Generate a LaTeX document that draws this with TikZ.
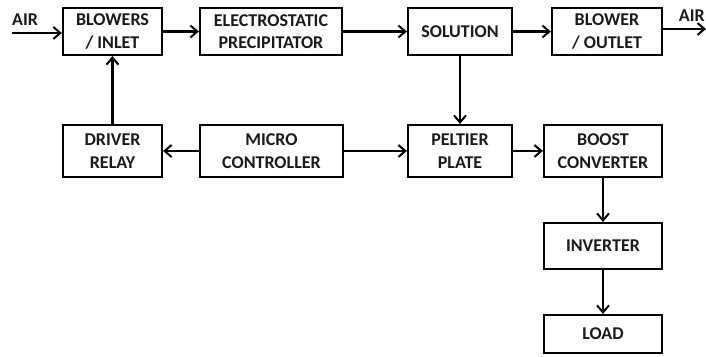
\documentclass[tikz,border=0pt]{standalone}
\usepackage{fontspec}
\setmainfont{Carlito}
\usepackage{tikz}
\usetikzlibrary{arrows.meta,positioning}
\definecolor{bdink}{HTML}{000000}
\definecolor{bdtext}{HTML}{1A1A1A}
\tikzset{
  bdblock/.style={draw=bdink, fill=white, line width=2.2pt, inner sep=0pt,
                  align=center, font=\fontsize{18}{22.5}\selectfont\bfseries,
                  text=bdtext},
  bdflow/.style={-{Straight Barb[length=7pt,width=12pt,line width=2pt]},
                 draw=bdink, line width=2.2pt},
  bdlabel/.style={font=\fontsize{18}{22.5}\selectfont\bfseries, text=bdtext,
                  inner sep=0pt},
}
\begin{document}
\begin{tikzpicture}[x=1pt, y=-1pt]
  \useasboundingbox (0,0) rectangle (706,356);
  % top row: air path
  \node[bdblock, minimum width=99pt,  minimum height=47pt] (inlet)   at (112.5,31.5) {BLOWERS\\/ INLET};
  \node[bdblock, minimum width=142pt, minimum height=47pt] (esp)     at (271,31.5)   {ELECTROSTATIC\\PRECIPITATOR};
  \node[bdblock, minimum width=104pt, minimum height=47pt] (sol)     at (460,31.5)   {SOLUTION};
  \node[bdblock, minimum width=110pt, minimum height=47pt] (outlet)  at (607,31.5)   {BLOWER\\/ OUTLET};
  % middle row
  \node[bdblock, minimum width=99pt,  minimum height=52pt] (relay)   at (112.5,151)  {DRIVER\\RELAY};
  \node[bdblock, minimum width=143pt, minimum height=52pt] (mcu)     at (271.5,151)  {MICRO\\CONTROLLER};
  \node[bdblock, minimum width=104pt, minimum height=52pt] (peltier) at (460,151)    {PELTIER\\PLATE};
  \node[bdblock, minimum width=118pt, minimum height=52pt] (boost)   at (603,151)    {BOOST\\CONVERTER};
  % output chain
  \node[bdblock, minimum width=118pt, minimum height=46pt] (inv)     at (603,246)    {INVERTER};
  \node[bdblock, minimum width=118pt, minimum height=38pt] (load)    at (603,334)    {LOAD};
  % air labels
  \node[bdlabel, anchor=west] (airin)  at (12,20)  {AIR};
  \node[bdlabel, anchor=east] (airout) at (705,16) {AIR};
  \coordinate (airsrc) at (12,33);
  \coordinate (airdst) at (706,29);
  % connectors
  \draw[bdflow] (airsrc) -- (inlet.west |- airsrc);
  \draw[bdflow] (inlet) -- (esp);
  \draw[bdflow] (esp) -- (sol);
  \draw[bdflow] (sol) -- (outlet);
  \draw[bdflow] (outlet.east |- airdst) -- (airdst);
  \draw[bdflow] (sol) -- (peltier);
  \draw[bdflow] (relay) -- (inlet);
  \draw[bdflow] (mcu) -- (relay);
  \draw[bdflow] (mcu) -- (peltier);
  \draw[bdflow] (peltier) -- (boost);
  \draw[bdflow] (boost) -- (inv);
  \draw[bdflow] (inv) -- (load);
\end{tikzpicture}
\end{document}
